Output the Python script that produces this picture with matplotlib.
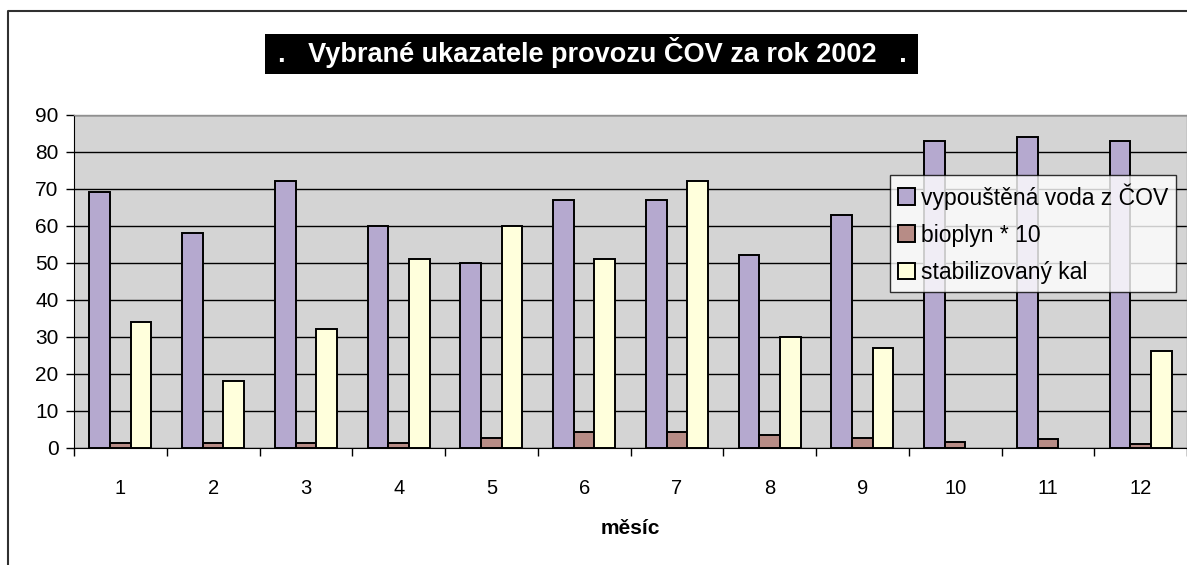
import numpy as np
import matplotlib
matplotlib.use("Agg")
import matplotlib.pyplot as plt
from matplotlib.lines import Line2D
from matplotlib.patches import Rectangle

plt.rcParams['font.family'] = ['Liberation Sans', 'DejaVu Sans']

# Data (no kal bar shown for months 10 and 11)
months = ["1", "2", "3", "4", "5", "6", "7", "8", "9", "10", "11", "12"]
voda = [69, 58, 72, 60, 50, 67, 67, 52, 63, 83, 84, 83]
bioplyn = [1.3, 1.3, 1.3, 1.3, 2.6, 4.3, 4.3, 3.5, 2.6, 1.4, 2.2, 1.0]
kal = [34, 18, 32, 51, 60, 51, 72, 30, 27, np.nan, np.nan, 26]
series_names = ["vypouštěná voda z ČOV", "bioplyn * 10", "stabilizovaný kal"]
colors = ["#b5a9cf", "#b78c86", "#ffffdc"]

W, H = 1187, 565
fig = plt.figure(figsize=(W / 100, H / 100), dpi=100)
ax = fig.add_axes([74 / W, 1 - 447.5 / H, 1 - 74 / W, (447.5 - 114.7) / H])
ax.set_facecolor("#d4d4d4")

x = np.arange(len(months))
bw = 1 / 4.5
for i, (vals, name) in enumerate(zip([voda, bioplyn, kal], series_names)):
    ax.bar(x + (i - 1) * bw, vals, bw, color=colors[i], edgecolor="black",
           linewidth=1.4, label=name, zorder=3)

ax.set_xlim(-0.5, len(months) - 0.5)
ax.set_ylim(0, 90)
ax.set_yticks(range(0, 91, 10))
ax.yaxis.grid(True, color="black", linewidth=1.0, zorder=1)
ax.set_axisbelow(True)

# category labels between boundary ticks
ax.set_xticks(np.arange(-0.5, len(months)), minor=False)
ax.set_xticklabels([])
ax.set_xticks(x, minor=True)
ax.set_xticklabels(months, minor=True)
ax.tick_params(axis="x", which="minor", length=0, pad=23, labelsize=14.5)
ax.tick_params(axis="x", which="major", length=6, width=1, direction="out")
ax.tick_params(axis="y", length=6, width=1, direction="out", labelsize=15, pad=5)

for s in ["top", "right"]:
    ax.spines[s].set_color("#909090")
    ax.spines[s].set_linewidth(1)
ax.spines["left"].set_color("black")
ax.spines["bottom"].set_color("black")

ax.set_xlabel("měsíc", fontsize=15, fontweight="bold", labelpad=15)

leg = ax.legend(loc="upper left", bbox_to_anchor=((890 - 74) / (W - 74), 1 - (175 - 114.7) / (447.5 - 114.7)),
                frameon=True, fancybox=False, shadow=False, fontsize=16.5,
                handlelength=0.75, handleheight=0.75, handletextpad=0.25,
                borderpad=0.35, labelspacing=0.62, borderaxespad=0)
leg.get_frame().set_edgecolor("black")
leg.get_frame().set_linewidth(1)
leg.set_zorder(5)

# title in black box
fig.add_artist(Rectangle((265 / W, 1 - 74 / H), (918 - 265) / W, (74 - 34) / H,
                         transform=fig.transFigure, facecolor="black", edgecolor="none"))
fig.text(592 / W, 1 - 53 / H, ".   Vybrané ukazatele provozu ČOV za rok 2002   .",
         ha="center", va="center", color="white", fontsize=19.5, fontweight="bold")

# outer chart border (left and top)
fig.add_artist(Line2D([8 / W, 8 / W, 1], [0, 1 - 11 / H, 1 - 11 / H],
                      transform=fig.transFigure, color="#303030", linewidth=1.5))

fig.savefig("out.png", dpi=100)
